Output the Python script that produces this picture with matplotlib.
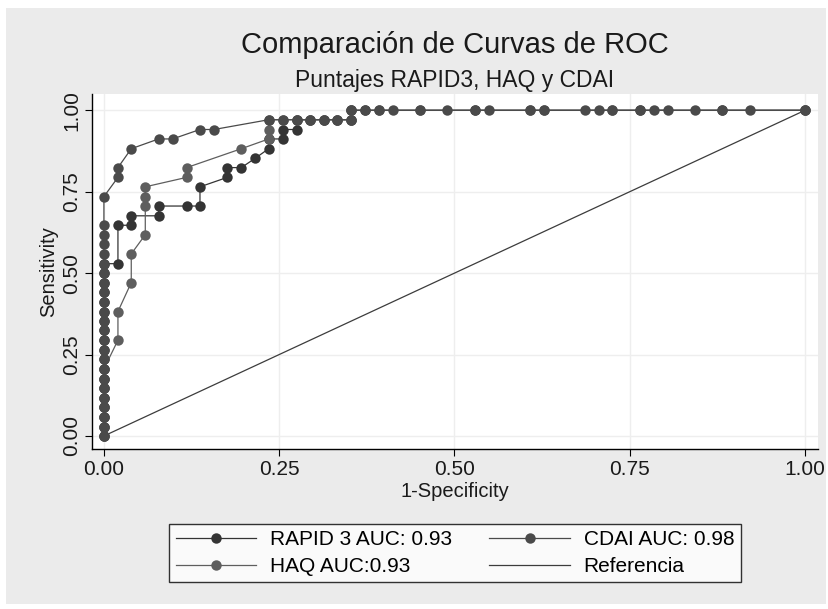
import matplotlib
matplotlib.use("Agg")
import matplotlib.pyplot as plt
from matplotlib.patches import Rectangle
from matplotlib.lines import Line2D

plt.rcParams["font.family"] = ["Liberation Sans", "DejaVu Sans"]

# ---------------------------------------------------------------------------
# Data
# ---------------------------------------------------------------------------
TITLE = "Comparación de Curvas de ROC"
SUBTITLE = "Puntajes RAPID3, HAQ y CDAI"
XLABEL = "1-Specificity"
YLABEL = "Sensitivity"
TICKS = [0.0, 0.25, 0.5, 0.75, 1.0]
TICK_LABELS = ["0.00", "0.25", "0.50", "0.75", "1.00"]

rapid_fpr = [0, 0, 0, 0, 0, 0, 0, 0, 0, 0, 0, 0, 0, 0, 0, 0, 0, 0, 0,
             0.020, 0.020, 0.039, 0.039, 0.078, 0.078, 0.118, 0.137, 0.137,
             0.176, 0.176, 0.196, 0.216, 0.235, 0.235, 0.255, 0.255, 0.275,
             0.275, 0.294, 0.314, 0.333, 0.353, 0.353, 0.373, 0.529, 0.765,
             0.882, 1.0]
rapid_tpr = [0, 0.029, 0.059, 0.088, 0.118, 0.147, 0.176, 0.206, 0.235, 0.265,
             0.294, 0.324, 0.353, 0.382, 0.412, 0.441, 0.471, 0.500, 0.529,
             0.529, 0.647, 0.647, 0.676, 0.676, 0.706, 0.706, 0.706, 0.765,
             0.794, 0.824, 0.824, 0.853, 0.882, 0.912, 0.912, 0.941, 0.941,
             0.971, 0.971, 0.971, 0.971, 0.971, 1.0, 1.0, 1.0, 1.0,
             1.0, 1.0]

haq_fpr = [0, 0, 0, 0, 0, 0, 0, 0,
           0.020, 0.020, 0.039, 0.039, 0.059, 0.059, 0.059, 0.059,
           0.118, 0.118, 0.196, 0.235, 0.235, 0.235, 0.255, 0.275, 0.294,
           0.314, 0.333, 0.353, 0.353, 0.392, 0.451, 0.608, 0.627, 0.725,
           1.0]
haq_tpr = [0, 0.029, 0.059, 0.088, 0.118, 0.147, 0.176, 0.206,
           0.294, 0.382, 0.471, 0.559, 0.618, 0.706, 0.735, 0.765,
           0.794, 0.824, 0.882, 0.912, 0.941, 0.971, 0.971, 0.971, 0.971,
           0.971, 0.971, 0.971, 1.0, 1.0, 1.0, 1.0, 1.0, 1.0,
           1.0]

cdai_fpr = [0, 0, 0, 0, 0, 0, 0, 0, 0, 0, 0, 0, 0, 0, 0, 0, 0, 0, 0, 0,
            0, 0, 0, 0,
            0.020, 0.020, 0.039, 0.078, 0.098, 0.137, 0.157, 0.235, 0.255,
            0.275, 0.294, 0.314, 0.333, 0.353, 0.353, 0.373, 0.392, 0.412,
            0.451, 0.490, 0.529, 0.549, 0.608, 0.627, 0.686, 0.706, 0.725,
            0.765, 0.784, 0.804, 0.843, 0.882, 0.922, 1.0]
cdai_tpr = [0, 0.029, 0.059, 0.088, 0.118, 0.147, 0.176, 0.206, 0.235, 0.265,
            0.294, 0.324, 0.353, 0.382, 0.412, 0.441, 0.471, 0.500, 0.529,
            0.559, 0.588, 0.618, 0.647, 0.735,
            0.794, 0.824, 0.882, 0.912, 0.912, 0.941, 0.941, 0.971, 0.971,
            0.971, 0.971, 0.971, 0.971, 0.971, 1.0, 1.0, 1.0, 1.0,
            1.0, 1.0, 1.0, 1.0, 1.0, 1.0, 1.0, 1.0, 1.0,
            1.0, 1.0, 1.0, 1.0, 1.0, 1.0, 1.0]

ref_x = [0.0, 1.0]
ref_y = [0.0, 1.0]

LABELS = ["RAPID 3 AUC: 0.93", "HAQ AUC:0.93", "CDAI AUC: 0.98", "Referencia"]
COLORS = ["#343434", "#5e5e5e", "#4a4a4a", "#3c3c3c"]

# ---------------------------------------------------------------------------
# Plot
# ---------------------------------------------------------------------------
W, H = 829, 609
fig = plt.figure(figsize=(W / 100, H / 100), dpi=100)
fig.patch.set_facecolor("white")
fig.patches.append(Rectangle((6 / W, 5 / H), 820 / W, 596 / H,
                             transform=fig.transFigure, facecolor="#ebebeb",
                             edgecolor="none", zorder=-10))

# plot region in pixels: left 92, right 818, top 94, bottom 449
ax = fig.add_axes([92 / W, (H - 449) / H, 726 / W, 355 / H])
ax.set_facecolor("white")
xc = (92 + 818) / 2 / W  # Stata centres titles/legend on the plot region

ax.plot(ref_x, ref_y, color=COLORS[3], lw=0.9, zorder=2)
series = [(rapid_fpr, rapid_tpr), (haq_fpr, haq_tpr), (cdai_fpr, cdai_tpr)]
for (fx, fy), c in zip(series, COLORS[:3]):
    ax.plot(fx, fy, color=c, lw=0.9, marker="o", markersize=7.5,
            markeredgewidth=0, zorder=3)

ax.set_xlim(-0.017, 1.0185)
ax.set_ylim(-0.04, 1.05)
ax.set_xticks(TICKS)
ax.set_xticklabels(TICK_LABELS)
ax.set_yticks(TICKS)
ax.set_yticklabels(TICK_LABELS, rotation=90, va="center")
ax.tick_params(axis="both", labelsize=15, length=5, width=0.8, pad=3,
               color="black", labelcolor="#1a1a1a")
ax.grid(True, color="#eeeeee", lw=1.0, zorder=0)
ax.set_axisbelow(True)
for side in ["top", "right"]:
    ax.spines[side].set_visible(False)
for side in ["left", "bottom"]:
    ax.spines[side].set_linewidth(1.0)
    ax.spines[side].set_color("black")

ax.set_xlabel(XLABEL, fontsize=14.5, labelpad=2, color="#1a1a1a")
ax.set_ylabel(YLABEL, fontsize=14.5, labelpad=3, color="#1a1a1a")

fig.text(xc, 1 - 45 / H, TITLE, ha="center", va="center", fontsize=21,
         color="#1a1a1a")
fig.text(xc, 1 - 81 / H, SUBTITLE, ha="center", va="center", fontsize=16.5,
         color="#1a1a1a")

handles = [
    Line2D([], [], color=COLORS[0], lw=0.9, marker="o", markersize=7.5, markeredgewidth=0),
    Line2D([], [], color=COLORS[1], lw=0.9, marker="o", markersize=7.5, markeredgewidth=0),
    Line2D([], [], color=COLORS[2], lw=0.9, marker="o", markersize=7.5, markeredgewidth=0),
    Line2D([], [], color=COLORS[3], lw=0.9),
]
leg = fig.legend(handles, LABELS, ncol=2, loc="center",
                 bbox_to_anchor=(xc, 1 - 553 / H),
                 fontsize=15, frameon=True, fancybox=False, edgecolor="black",
                 handlelength=3.85, columnspacing=1.8, handletextpad=0.67,
                 borderpad=0.3, labelspacing=0.4, borderaxespad=0)
leg.get_frame().set_linewidth(1.0)
leg.get_frame().set_facecolor("white")

fig.savefig("out.png", dpi=100)
